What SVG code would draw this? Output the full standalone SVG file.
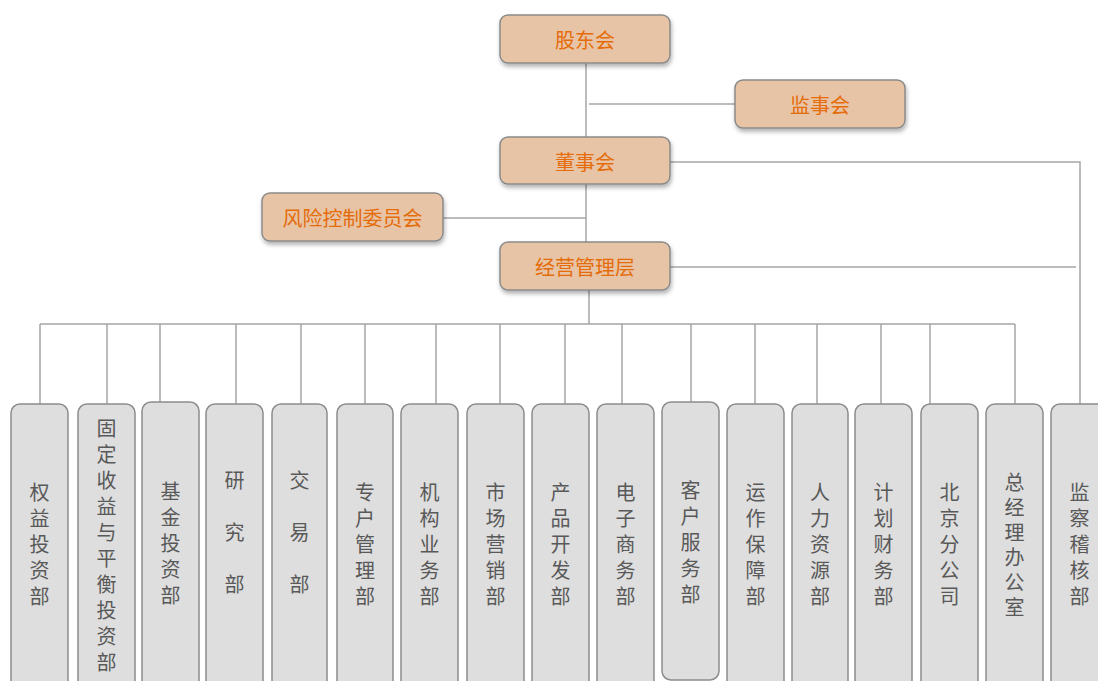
<svg xmlns="http://www.w3.org/2000/svg" width="1098" height="681" viewBox="0 0 1098 681">
<defs>
<filter id="sh" x="-10%" y="-20%" width="130%" height="160%">
<feDropShadow dx="1" dy="3" stdDeviation="2" flood-color="#000" flood-opacity="0.3"/>
</filter>
<style>
.top rect{fill:#E8C4A6;stroke:#8A8A8A;stroke-width:1.5;filter:url(#sh)}
.top text{fill:#E46C0A;font-family:"Noto Sans CJK SC","Noto Sans",sans-serif;font-size:20px;text-anchor:middle;dominant-baseline:central}
.dept rect{fill:#DEDEDE;stroke:#8C8C8C;stroke-width:1.5}
.dept text{fill:#595959;font-family:"Noto Sans CJK SC","Noto Sans",sans-serif;font-size:20px;text-anchor:middle;writing-mode:vertical-rl;letter-spacing:6px}
.dept text.w{letter-spacing:32px}
.dept text.n{letter-spacing:5px}
.conn line,.conn path{stroke:#A6A6A6;stroke-width:1.5;fill:none}
</style>
</defs>
<rect width="1098" height="681" fill="#fff"/>
<g class="conn">
<line x1="586" y1="63" x2="586" y2="137"/>
<line x1="589" y1="104" x2="735" y2="104"/>
<line x1="586" y1="184" x2="586" y2="242"/>
<line x1="443" y1="218" x2="586" y2="218"/>
<path d="M670 162 H1080 V405"/>
<line x1="670" y1="267" x2="1076" y2="267"/>
<line x1="589" y1="290" x2="589" y2="324"/>
<line x1="40" y1="324" x2="1015" y2="324"/>
<line x1="40" y1="324" x2="40" y2="404"/>
<line x1="107" y1="324" x2="107" y2="404"/>
<line x1="160" y1="324" x2="160" y2="402"/>
<line x1="236" y1="324" x2="236" y2="404"/>
<line x1="301" y1="324" x2="301" y2="404"/>
<line x1="365" y1="324" x2="365" y2="404"/>
<line x1="436" y1="324" x2="436" y2="404"/>
<line x1="500" y1="324" x2="500" y2="404"/>
<line x1="565" y1="324" x2="565" y2="404"/>
<line x1="622" y1="324" x2="622" y2="404"/>
<line x1="691" y1="324" x2="691" y2="404"/>
<line x1="755" y1="324" x2="755" y2="404"/>
<line x1="817" y1="324" x2="817" y2="404"/>
<line x1="881" y1="324" x2="881" y2="404"/>
<line x1="930" y1="324" x2="930" y2="404"/>
<line x1="1015" y1="324" x2="1015" y2="404"/>
</g>
<g id="n-gudong" class="top"><rect x="500" y="15" width="170" height="48" rx="8"/><text x="585" y="39">股东会</text></g>
<g id="n-jianshi" class="top"><rect x="735" y="80" width="170" height="48" rx="8"/><text x="820" y="104">监事会</text></g>
<g id="n-dongshi" class="top"><rect x="500" y="137" width="170" height="47" rx="8"/><text x="585" y="161">董事会</text></g>
<g id="n-fengxian" class="top"><rect x="262" y="193" width="181" height="48" rx="8"/><text x="352.5" y="217">风险控制委员会</text></g>
<g id="n-jingying" class="top"><rect x="500" y="242" width="170" height="48" rx="8"/><text x="585" y="266">经营管理层</text></g>

<g id="d1" class="dept"><rect x="11" y="404" width="57" height="290" rx="9"/><text x="39.5" y="547">权益投资部</text></g>
<g id="d2" class="dept"><rect x="78" y="404" width="57" height="290" rx="9"/><text x="106.5" y="548">固定收益与平衡投资部</text></g>
<g id="d3" class="dept"><rect x="142" y="402" width="57" height="292" rx="9"/><text x="170.5" y="546">基金投资部</text></g>
<g id="d4" class="dept"><rect x="206" y="404" width="57" height="290" rx="9"/><text class="w" x="234.5" y="548">研究部</text></g>
<g id="d5" class="dept"><rect x="272" y="404" width="55" height="290" rx="9"/><text class="w" x="299.5" y="548">交易部</text></g>
<g id="d6" class="dept"><rect x="337" y="404" width="56" height="290" rx="9"/><text x="365" y="547">专户管理部</text></g>
<g id="d7" class="dept"><rect x="401" y="404" width="57" height="290" rx="9"/><text x="429.5" y="547">机构业务部</text></g>
<g id="d8" class="dept"><rect x="467" y="404" width="57" height="290" rx="9"/><text x="495.5" y="547">市场营销部</text></g>
<g id="d9" class="dept"><rect x="532" y="404" width="57" height="290" rx="9"/><text x="560.5" y="547">产品开发部</text></g>
<g id="d10" class="dept"><rect x="597" y="404" width="57" height="290" rx="9"/><text x="625.5" y="547">电子商务部</text></g>
<g id="d11" class="dept"><rect x="662" y="402" width="57" height="278" rx="9"/><text x="690.5" y="545">客户服务部</text></g>
<g id="d12" class="dept"><rect x="727" y="404" width="57" height="290" rx="9"/><text x="755.5" y="547">运作保障部</text></g>
<g id="d13" class="dept"><rect x="792" y="404" width="56" height="290" rx="9"/><text x="820" y="547">人力资源部</text></g>
<g id="d14" class="dept"><rect x="855" y="404" width="57" height="290" rx="9"/><text x="883.5" y="547">计划财务部</text></g>
<g id="d15" class="dept"><rect x="921" y="404" width="57" height="290" rx="9"/><text x="949.5" y="547">北京分公司</text></g>
<g id="d16" class="dept"><rect x="986" y="404" width="57" height="290" rx="9"/><text class="n" x="1014.5" y="547">总经理办公室</text></g>
<g id="d17" class="dept"><rect x="1051" y="404" width="57" height="290" rx="9"/><text x="1079.5" y="547">监察稽核部</text></g>
</svg>
